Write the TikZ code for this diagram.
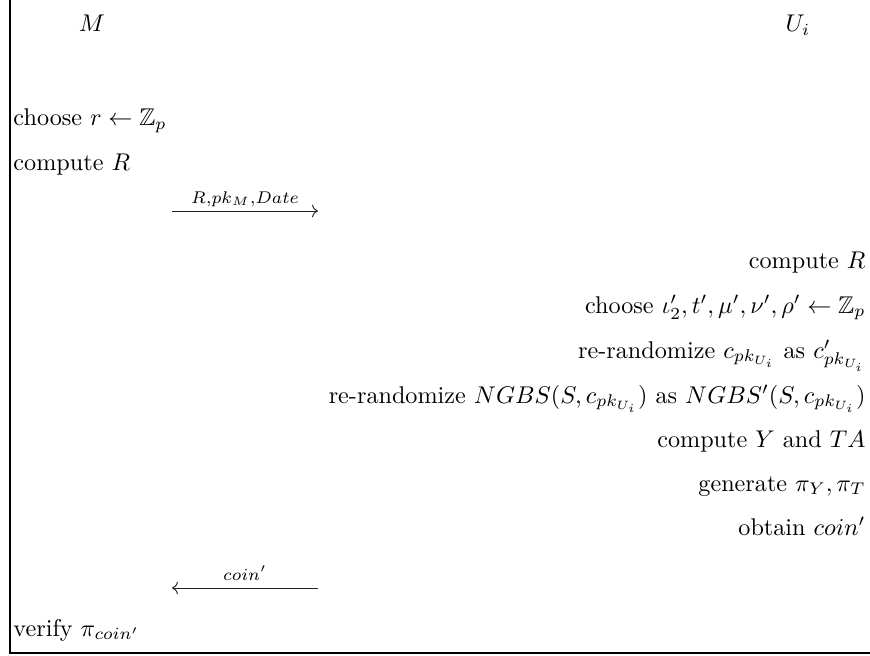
\documentclass[tikz,border=0pt]{standalone}
\usepackage{amsmath,amssymb}
\usetikzlibrary{
    arrows.meta,
    positioning
}
\tikzset{
    party/.style={
        inner sep=0pt,
        anchor=base
    }
}
\tikzset{
    stepM/.style={
        inner sep=0pt,
        anchor=base west
    }
}
\tikzset{
    stepU/.style={
        inner sep=0pt,
        anchor=base east
    }
}
\tikzset{
    msglabel/.style={
        inner sep=0pt,
        anchor=base
    }
}
\tikzset{
    msg/.style={
        draw=black!85,
        line width=0.4pt,
        ->
    }
}
\tikzset{
    frame/.style={
        draw=black,
        line width=0.5pt
    }
}

\begin{document}
\begin{tikzpicture}[
    x=0.4135pt,
    y=-0.4135pt
]

\useasboundingbox (0,0) rectangle (870,656);

% frame of the protocol
\draw[frame] (10,0) -- (10,653) -- (870,653);

% parties
\node[party] (M) at (92,32) {$M$};
\node[party] (U) at (798,32) {$U_i$};

% steps of M
\node[stepM] (m1) at (13,126) {choose $r \leftarrow \mathbb{Z}_p$};
\node[stepM] (m2) at (13,171) {compute $R$};

% first message
\coordinate (s1) at (172,211);
\coordinate (e1) at (318,211);
\draw[msg] (s1) -- (e1);
\node[msglabel] (l1) at (245,203) {$\scriptstyle R,pk_M,Date$};

% steps of U_i
\node[stepU] (u1) at (866,268) {compute $R$};
\node[stepU] (u2) at (866,313) {choose $\iota_2',t',\mu',\nu',\rho' \leftarrow \mathbb{Z}_p$};
\node[stepU] (u3) at (866,358) {re-randomize $c_{pk_{U_i}}$ as $c'_{pk_{U_i}}$};
\node[stepU] (u4) at (866,403)
    {re-randomize $NGBS(S,c_{pk_{U_i}})$ as $NGBS'(S,c_{pk_{U_i}})$};
\node[stepU] (u5) at (866,447) {compute $Y$ and $TA$};
\node[stepU] (u6) at (866,491) {generate $\pi_Y,\pi_T$};
\node[stepU] (u7) at (866,535) {obtain $coin'$};

% second message
\coordinate (s2) at (318,588);
\coordinate (e2) at (172,588);
\draw[msg] (s2) -- (e2);
\node[msglabel] (l2) at (245,580) {$\scriptstyle coin'$};

% last step of M
\node[stepM] (m3) at (13,636) {verify $\pi_{coin'}$};

\end{tikzpicture}
\end{document}
